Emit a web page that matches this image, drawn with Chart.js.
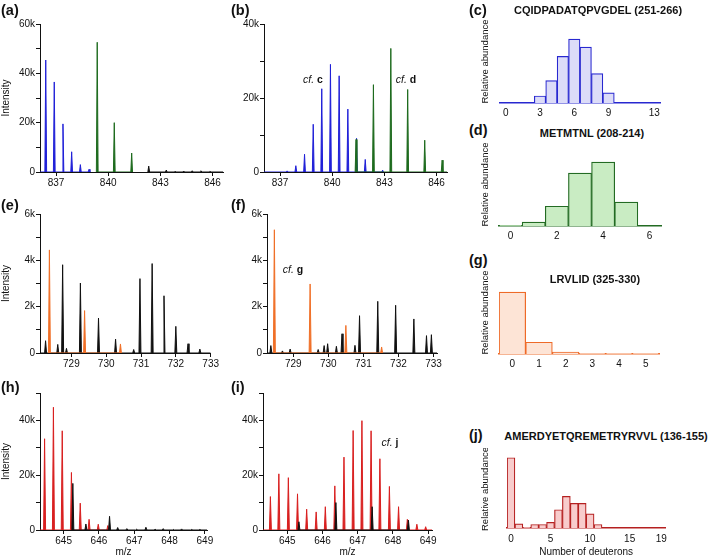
<!DOCTYPE html>
<html>
<head>
<meta charset="utf-8">
<script src="https://cdn.jsdelivr.net/npm/chart.js@4/dist/chart.umd.min.js"></script>
<style>
    body { margin: 0; width: 708px; height: 558px; background: #fff; position: relative; overflow: hidden;
           font-family: "Liberation Sans", Arial, sans-serif; color: #111; }
    canvas { position: absolute; }
    .lbl { position: absolute; font-weight: bold; font-size: 14.5px; transform: translateY(-50%); }
    .pep { position: absolute; font-weight: bold; font-size: 11px; transform: translate(-50%, -50%); white-space: nowrap; }
    .cf  { position: absolute; font-size: 10.5px; transform: translate(-50%, -50%); white-space: nowrap; }
</style>
</head>
<body>
<canvas id="chartA"></canvas>
<canvas id="chartB"></canvas>
<canvas id="chartE"></canvas>
<canvas id="chartF"></canvas>
<canvas id="chartH"></canvas>
<canvas id="chartI"></canvas>
<canvas id="chartC"></canvas>
<canvas id="chartD"></canvas>
<canvas id="chartG"></canvas>
<canvas id="chartJ"></canvas>

<div class="lbl" style="left:1px;top:10px">(a)</div>
<div class="lbl" style="left:231px;top:10px">(b)</div>
<div class="lbl" style="left:469px;top:10px">(c)</div>
<div class="lbl" style="left:469px;top:130px">(d)</div>
<div class="lbl" style="left:1px;top:205px">(e)</div>
<div class="lbl" style="left:231px;top:205px">(f)</div>
<div class="lbl" style="left:469px;top:260px">(g)</div>
<div class="lbl" style="left:1px;top:387px">(h)</div>
<div class="lbl" style="left:231px;top:387px">(i)</div>
<div class="lbl" style="left:469px;top:435px">(j)</div>

<div class="pep" style="left:598px;top:10px">CQIDPADATQPVGDEL (251-266)</div>
<div class="pep" style="left:592px;top:133px">METMTNL (208-214)</div>
<div class="pep" style="left:595px;top:279px">LRVLID (325-330)</div>
<div class="pep" style="left:606px;top:436px">AMERDYETQREMETRYRVVL (136-155)</div>

<div class="cf" style="left:313px;top:79px"><i>cf.</i> <b>c</b></div>
<div class="cf" style="left:406px;top:79px"><i>cf.</i> <b>d</b></div>
<div class="cf" style="left:293px;top:269px"><i>cf.</i> <b>g</b></div>
<div class="cf" style="left:390px;top:442px"><i>cf.</i> <b>j</b></div>

<script>
Chart.defaults.font.family = "'Liberation Sans', Arial, sans-serif";
Chart.defaults.color = '#111';

// (a) / (b)  m/z 836-847
const abXTicks = [837, 840, 843, 846];
const abXLabels = ['837', '840', '843', '846'];
const aYTicks = [0, 10000, 20000, 30000, 40000, 50000, 60000];
const aYLabels = ['0', '', '20k', '', '40k', '', '60k'];
const bYTicks = [0, 10000, 20000, 30000, 40000];
const bYLabels = ['0', '', '20k', '', '40k'];

const aBlueMz = [836.41, 836.90, 837.40, 837.90, 838.40, 838.90];
const aBlueInt = [45400, 36500, 19500, 8200, 3000, 1100];
const aGreenMz = [839.37, 840.35, 841.35];
const aGreenInt = [52600, 20000, 7700];
const aBlackMz = [842.33, 843.34, 843.84, 844.34, 844.83, 845.33, 845.85];
const aBlackInt = [2400, 800, 300, 400, 500, 500, 300];

const bBlueMz = [837.41, 837.91, 838.41, 838.91, 839.40, 839.90, 840.40, 840.90, 841.40, 841.90, 842.90];
const bBlueInt = [300, 1700, 4800, 12900, 22500, 29100, 26000, 17000, 9100, 3400, 500];
const bGreenMz = [841.37, 842.37, 843.37, 844.34, 845.32, 846.32];
const bGreenInt = [8800, 23600, 33400, 22300, 8600, 3200];

// (e) / (f)  m/z 728-733
const efXTicks = [729, 730, 731, 732, 733];
const efXLabels = ['729', '730', '731', '732', '733'];
const efYTicks = [0, 1000, 2000, 3000, 4000, 5000, 6000];
const efYLabels = ['0', '', '2k', '', '4k', '', '6k'];

const eOrangeMz = [728.37, 729.38, 730.41];
const eOrangeInt = [4450, 1830, 390];
const eBlackMz = [728.26, 728.61, 728.75, 728.86, 729.26, 729.78, 730.27, 730.79, 730.97, 731.32, 731.66, 732.00, 732.35, 732.69];
const eBlackInt = [530, 370, 3810, 200, 3020, 1510, 600, 150, 3210, 3860, 2470, 1150, 400, 170];

const fOrangeMz = [728.46, 729.48, 730.50, 731.52];
const fOrangeInt = [5320, 2980, 1190, 260];
const fBlackMz = [728.36, 728.69, 728.91, 729.71, 729.88, 729.98, 730.23, 730.39, 730.76, 730.89, 731.41, 731.92, 732.44, 732.80, 732.94];
const fBlackInt = [320, 90, 170, 150, 320, 400, 290, 830, 330, 1610, 2230, 2060, 1470, 750, 790];

// (h) / (i)  m/z 644-649
const hiXTicks = [645, 646, 647, 648, 649];
const hiXLabels = ['645', '646', '647', '648', '649'];
const hiYTicks = [0, 10000, 20000, 30000, 40000, 50000];
const hiYLabels = ['0', '', '20k', '', '40k', ''];

const hRedMz = [644.46, 644.71, 644.96, 645.22, 645.47, 645.72, 645.98, 646.25];
const hRedInt = [33300, 44800, 36200, 21000, 9800, 3900, 2100, 1600];
const hBlackMz = [645.26, 645.63, 646.30, 646.53, 646.79, 647.07, 647.33, 647.59, 647.82, 648.11, 648.34, 648.63, 648.86];
const hBlackInt = [17000, 2200, 5000, 900, 500, 300, 1000, 300, 500, 200, 400, 200, 200];

const iRedMz = [644.52, 644.76, 645.03, 645.29, 645.55, 645.82, 646.08, 646.35, 646.61, 646.87, 647.12, 647.38, 647.63, 647.90, 648.16, 648.41, 648.68, 648.93];
const iRedInt = [12200, 20500, 19100, 13200, 7600, 6600, 8500, 16100, 26600, 36300, 39900, 36200, 26000, 15900, 8500, 3900, 2100, 1200];
const iBlackMz = [645.33, 646.38, 647.41, 648.44];
const iBlackInt = [3000, 10000, 8500, 3600];

// deuteron histograms
const cDeut = [0, 1, 2, 3, 4, 5, 6, 7, 8, 9, 10, 11, 12, 13];
const cAbund = [0, 0, 0, 0.11, 0.35, 0.73, 1.0, 0.875, 0.46, 0.16, 0, 0, 0, 0];
const cTicks = [0, 3, 6, 9, 13];
const cTickLabels = ['0', '3', '6', '9', '13'];

const dDeut = [0, 1, 2, 3, 4, 5, 6];
const dAbund = [0.01, 0.06, 0.31, 0.83, 1.0, 0.375, 0];
const dTicks = [0, 2, 4, 6];
const dTickLabels = ['0', '2', '4', '6'];

const gDeut = [0, 1, 2, 3, 4, 5];
const gAbund = [1.0, 0.19, 0.03, 0.01, 0.01, 0.01];
const gTicks = [0, 1, 2, 3, 4, 5];
const gTickLabels = ['0', '1', '2', '3', '4', '5'];

const jDeut = [0, 1, 2, 3, 4, 5, 6, 7, 8, 9, 10, 11, 12, 13, 14, 15, 16, 17, 18, 19];
const jAbund = [1.0, 0.06, 0.01, 0.05, 0.05, 0.08, 0.26, 0.45, 0.35, 0.35, 0.2, 0.05, 0, 0, 0, 0, 0, 0, 0, 0];
const jTicks = [0, 5, 10, 15, 19];
const jTickLabels = ['0', '5', '10', '15', '19'];

const BLUE = '#2020d8', GREEN = '#1e6b1e', ORANGE = '#f07028', RED = '#d92020', BLACK = '#111';

// put the canvas so the plot area lands on "area" (page px)
function placeCanvas(id, area, pad) {
    const cv = document.getElementById(id);
    cv.width = area.r - area.l + pad.l + pad.r;
    cv.height = area.b - area.t + pad.t + pad.b;
    cv.style.left = (area.l - pad.l) + 'px';
    cv.style.top = (area.t - pad.t) + 'px';
    return cv;
}

// thin spike for every peak, sitting on the zero line
function spikes(mz, inten, hw, from, to) {
    const pts = [];
    if (from !== undefined) pts.push({ x: from, y: 0 });
    mz.forEach((m, i) => {
        pts.push({ x: m - hw, y: 0 }, { x: m, y: inten[i] }, { x: m + hw, y: 0 });
    });
    if (to !== undefined) pts.push({ x: to, y: 0 });
    return pts;
}

function spectrumChart(id, area, pad, opt) {
    const cv = placeCanvas(id, area, pad);
    return new Chart(cv, {
        type: 'line',
        data: {
            datasets: opt.series.map(s => ({
                data: s.points,
                borderColor: s.color,
                backgroundColor: s.color,
                borderWidth: 1,
                borderJoinStyle: 'bevel',
                pointRadius: 0,
                tension: 0,
                fill: 'origin',
            }))
        },
        options: {
            responsive: false, animation: false, events: [],
            layout: { padding: { left: 0, top: pad.t, right: pad.r, bottom: 0 } },
            plugins: { legend: { display: false }, tooltip: { enabled: false } },
            scales: {
                x: {
                    type: 'linear', min: opt.xMin, max: opt.xMax,
                    afterFit: s => { s.height = pad.b; },
                    afterBuildTicks: s => { s.ticks = opt.xTicks.map(v => ({ value: v })); },
                    ticks: { callback: (v, i) => opt.xLabels[i], font: { size: 10 }, padding: 1, maxRotation: 0, autoSkip: false },
                    grid: { drawOnChartArea: false, tickLength: 4, color: BLACK },
                    border: { color: BLACK, width: 1 },
                    title: { display: !!opt.xTitle, text: opt.xTitle, font: { size: 10 }, padding: 0 },
                },
                y: {
                    min: 0, max: opt.yMax,
                    afterFit: s => { s.width = pad.l; },
                    afterBuildTicks: s => { s.ticks = opt.yTicks.map(v => ({ value: v })); },
                    ticks: { callback: (v, i) => opt.yLabels[i], font: { size: 10 }, padding: 1 },
                    grid: { drawOnChartArea: false, tickLength: 4, color: BLACK },
                    border: { color: BLACK, width: 1 },
                    title: { display: !!opt.yTitle, text: opt.yTitle, font: { size: 10 }, padding: 0 },
                }
            }
        }
    });
}

function histChart(id, area, pad, opt) {
    const cv = placeCanvas(id, area, pad);
    return new Chart(cv, {
        type: 'bar',
        data: {
            datasets: [{
                data: opt.deut.map((d, i) => ({ x: d, y: opt.abund[i] })),
                backgroundColor: opt.fill,
                borderColor: opt.line,
                borderWidth: 1.2,
                borderSkipped: 'start',
                barPercentage: 1,
                categoryPercentage: 1,
            }]
        },
        options: {
            responsive: false, animation: false, events: [],
            layout: { padding: { left: 0, top: pad.t, right: pad.r, bottom: 0 } },
            plugins: { legend: { display: false }, tooltip: { enabled: false } },
            scales: {
                x: {
                    type: 'linear', min: opt.xMin, max: opt.xMax, offset: false, z: 1,
                    afterFit: s => { s.height = pad.b; },
                    afterBuildTicks: s => { s.ticks = opt.ticks.map(v => ({ value: v })); },
                    ticks: { callback: (v, i) => opt.tickLabels[i], font: { size: 10 }, padding: opt.tickPad, maxRotation: 0, autoSkip: false },
                    grid: { display: false, drawTicks: false, offset: false },
                    border: { color: opt.line, width: 1.5 },
                    title: { display: !!opt.xTitle, text: opt.xTitle, font: { size: 10 }, padding: 0 },
                },
                y: {
                    min: 0, max: opt.yMax,
                    afterFit: s => { s.width = pad.l; },
                    ticks: { display: false },
                    grid: { display: false, drawTicks: false },
                    border: { display: false },
                    title: { display: true, text: 'Relative abundance', font: { size: 9.5 }, padding: 0 },
                }
            }
        }
    });
}

// mass spectra (first series is drawn on top)
spectrumChart('chartA', { l: 40, t: 24, r: 223, b: 172 }, { l: 40, t: 24, r: 6, b: 18 }, {
    xMin: 836.08, xMax: 846.6, yMax: 60000,
    xTicks: abXTicks, xLabels: abXLabels, yTicks: aYTicks, yLabels: aYLabels, yTitle: 'Intensity',
    series: [
        { color: BLUE, points: spikes(aBlueMz, aBlueInt, 0.05, 836.08) },
        { color: GREEN, points: spikes(aGreenMz, aGreenInt, 0.05) },
        { color: BLACK, points: spikes(aBlackMz, aBlackInt, 0.05, undefined, 846.6) },
    ]
});

spectrumChart('chartB', { l: 264, t: 24, r: 447, b: 172 }, { l: 34, t: 24, r: 6, b: 18 }, {
    xMin: 836.08, xMax: 846.6, yMax: 40000,
    xTicks: abXTicks, xLabels: abXLabels, yTicks: bYTicks, yLabels: bYLabels,
    series: [
        { color: GREEN, points: spikes(bGreenMz, bGreenInt, 0.05, undefined, 846.6) },
        { color: BLUE, points: spikes(bBlueMz, bBlueInt, 0.05, 836.08) },
    ]
});

spectrumChart('chartE', { l: 40, t: 214, r: 212, b: 353 }, { l: 40, t: 14, r: 8, b: 18 }, {
    xMin: 728.1, xMax: 733.0, yMax: 6000,
    xTicks: efXTicks, xLabels: efXLabels, yTicks: efYTicks, yLabels: efYLabels, yTitle: 'Intensity',
    series: [
        { color: ORANGE, points: spikes(eOrangeMz, eOrangeInt, 0.028) },
        { color: BLACK, points: spikes(eBlackMz, eBlackInt, 0.028, 728.1, 733.0) },
    ]
});

spectrumChart('chartF', { l: 267, t: 214, r: 437, b: 353 }, { l: 36, t: 14, r: 8, b: 18 }, {
    xMin: 728.25, xMax: 733.1, yMax: 6000,
    xTicks: efXTicks, xLabels: efXLabels, yTicks: efYTicks, yLabels: efYLabels,
    series: [
        { color: ORANGE, points: spikes(fOrangeMz, fOrangeInt, 0.028) },
        { color: BLACK, points: spikes(fBlackMz, fBlackInt, 0.028, 728.25, 733.1) },
    ]
});

spectrumChart('chartH', { l: 40, t: 393, r: 207, b: 530 }, { l: 40, t: 14, r: 10, b: 28 }, {
    xMin: 644.33, xMax: 649.06, yMax: 50000,
    xTicks: hiXTicks, xLabels: hiXLabels, yTicks: hiYTicks, yLabels: hiYLabels, yTitle: 'Intensity', xTitle: 'm/z',
    series: [
        { color: BLACK, points: spikes(hBlackMz, hBlackInt, 0.028, undefined, 649.06) },
        { color: RED, points: spikes(hRedMz, hRedInt, 0.028, 644.33) },
    ]
});

spectrumChart('chartI', { l: 263, t: 393, r: 432, b: 530 }, { l: 33, t: 14, r: 10, b: 28 }, {
    xMin: 644.31, xMax: 649.11, yMax: 50000,
    xTicks: hiXTicks, xLabels: hiXLabels, yTicks: hiYTicks, yLabels: hiYLabels, xTitle: 'm/z',
    series: [
        { color: BLACK, points: spikes(iBlackMz, iBlackInt, 0.028) },
        { color: RED, points: spikes(iRedMz, iRedInt, 0.028, 644.31, 649.11) },
    ]
});

// deuteron distributions
histChart('chartC', { l: 500, t: 20, r: 660, b: 103 }, { l: 20, t: 2, r: 4, b: 16 }, {
    deut: cDeut, abund: cAbund, ticks: cTicks, tickLabels: cTickLabels,
    xMin: -0.5, xMax: 13.5, yMax: 1.30, tickPad: 4, fill: '#dcdcf8', line: '#2828d0'
});

histChart('chartD', { l: 499, t: 143, r: 661, b: 226 }, { l: 19, t: 2, r: 4, b: 16 }, {
    deut: dDeut, abund: dAbund, ticks: dTicks, tickLabels: dTickLabels,
    xMin: -0.5, xMax: 6.5, yMax: 1.30, tickPad: 4, fill: '#c9ecc3', line: '#236b23'
});

histChart('chartG', { l: 499, t: 271, r: 659, b: 354 }, { l: 19, t: 2, r: 4, b: 16 }, {
    deut: gDeut, abund: gAbund, ticks: gTicks, tickLabels: gTickLabels,
    xMin: -0.5, xMax: 5.5, yMax: 1.34, tickPad: 4, fill: '#fde4d6', line: '#ee6a28'
});

histChart('chartJ', { l: 507, t: 450, r: 668, b: 528 }, { l: 27, t: 2, r: 4, b: 30 }, {
    deut: jDeut, abund: jAbund, ticks: jTicks, tickLabels: jTickLabels,
    xMin: -0.5, xMax: 19.5, yMax: 1.11, tickPad: 5, fill: '#f8cccc', line: '#b52020',
    xTitle: 'Number of deuterons'
});
</script>
</body>
</html>
